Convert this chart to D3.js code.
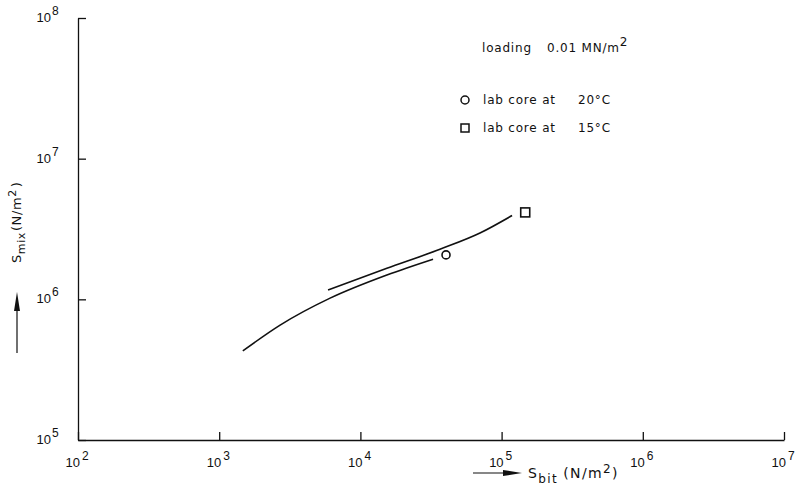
<!DOCTYPE html>
<html><head><meta charset="utf-8">
<script src="https://cdn.jsdelivr.net/npm/d3@7"></script>
<style>
body{margin:0;background:#fff;}
svg{display:block;font-family:"DejaVu Sans",sans-serif;}
.tk{font-family:"Liberation Sans",Arial,sans-serif;}
</style></head>
<body><svg id="c" width="795" height="492"></svg>
<script>
// ---- data ----
const xTickExps = [2, 3, 4, 5, 6, 7];
const yTickExps = [5, 6, 7, 8];
// lab core at 20°C : fitted curve (lower) + measured point
const curve20X = [1470, 2700, 6100, 15400, 32700];
const curve20Y = [4.3e5, 6.56e5, 1.02e6, 1.49e6, 1.93e6];
// lab core at 15°C : fitted curve (upper) + measured point
const curve15X = [5900, 15400, 36600, 70300, 118600];
const curve15Y = [1.165e6, 1.66e6, 2.27e6, 2.96e6, 3.94e6];
const point20 = [40400, 2.07e6];
const point15 = [147000, 4.15e6];
const legendText = ["lab core at", "lab core at"];
const legendTemps = ["20°C", "15°C"];

const svg = d3.select("#c");
const x = d3.scaleLog().domain([1e2, 1e7]).range([78, 784]);
const y = d3.scaleLog().domain([1e5, 1e8]).range([440, 18]);
const ink = "#111";

// axes
const xAxis = d3.axisBottom(x).tickValues(xTickExps.map(e => Math.pow(10, e)))
  .tickSizeInner(-8).tickSizeOuter(0).tickFormat("");
const yAxis = d3.axisLeft(y).tickValues(yTickExps.map(e => Math.pow(10, e)))
  .tickSizeInner(-8).tickSizeOuter(0).tickFormat("");
const gx = svg.append("g").attr("transform", `translate(0,${y(1e5)})`).call(xAxis);
const gy = svg.append("g").attr("transform", `translate(${x(1e2)},0)`).call(yAxis);
[gx, gy].forEach(g => {
  g.selectAll("path,line").attr("stroke", ink).attr("stroke-width", 1.3);
});

// tick labels
xTickExps.forEach(e => {
  svg.append("text").attr("class", "tk").attr("x", x(Math.pow(10, e)) + 2).attr("y", y(1e5) + 27)
    .attr("text-anchor", "end").attr("font-size", 13).attr("fill", ink).text("10");
  svg.append("text").attr("class", "tk").attr("x", x(Math.pow(10, e)) + 4).attr("y", y(1e5) + 20)
    .attr("font-size", 12).attr("fill", ink).text(e);
});
yTickExps.forEach(e => {
  svg.append("text").attr("class", "tk").attr("x", 51).attr("y", y(Math.pow(10, e)) + 4)
    .attr("text-anchor", "end").attr("font-size", 13).attr("fill", ink).text("10");
  svg.append("text").attr("class", "tk").attr("x", 52).attr("y", y(Math.pow(10, e)) - 3)
    .attr("font-size", 12).attr("fill", ink).text(e);
});

// curves
const line = d3.line().x(d => x(d[0])).y(d => y(d[1])).curve(d3.curveMonotoneX);
svg.append("path").datum(d3.zip(curve20X, curve20Y)).attr("d", line)
  .attr("fill", "none").attr("stroke", ink).attr("stroke-width", 1.6);
svg.append("path").datum(d3.zip(curve15X, curve15Y)).attr("d", line)
  .attr("fill", "none").attr("stroke", ink).attr("stroke-width", 1.6);

// markers
svg.append("circle").attr("cx", x(point20[0])).attr("cy", y(point20[1])).attr("r", 4)
  .attr("fill", "none").attr("stroke", ink).attr("stroke-width", 1.6);
svg.append("rect").attr("x", x(point15[0]) - 4.5).attr("y", y(point15[1]) - 4.5)
  .attr("width", 9).attr("height", 9)
  .attr("fill", "none").attr("stroke", ink).attr("stroke-width", 1.6);

// legend
const ls = 0.8;
svg.append("text").attr("x", 482).attr("y", 52).attr("font-size", 12).attr("letter-spacing", ls)
  .attr("fill", ink).text("loading");
const lt = svg.append("text").attr("x", 547).attr("y", 52).attr("font-size", 12)
  .attr("letter-spacing", ls).attr("fill", ink);
lt.append("tspan").text("0.01 MN/m");
lt.append("tspan").attr("dy", -6).attr("font-size", 12).text("2");

const ly = [100, 128];
svg.append("circle").attr("cx", 465).attr("cy", ly[0]).attr("r", 4)
  .attr("fill", "none").attr("stroke", ink).attr("stroke-width", 1.5);
svg.append("rect").attr("x", 461).attr("y", ly[1] - 4).attr("width", 8).attr("height", 8)
  .attr("fill", "none").attr("stroke", ink).attr("stroke-width", 1.5);
ly.forEach((yy, i) => {
  svg.append("text").attr("x", 483).attr("y", yy + 4).attr("font-size", 12)
    .attr("letter-spacing", ls).attr("fill", ink).text(legendText[i]);
  svg.append("text").attr("x", 578).attr("y", yy + 4).attr("font-size", 12)
    .attr("letter-spacing", ls).attr("fill", ink).text(legendTemps[i]);
});

// x title
svg.append("line").attr("x1", 473).attr("y1", 473).attr("x2", 510).attr("y2", 473)
  .attr("stroke", ink).attr("stroke-width", 1.2);
svg.append("path").attr("d", "M503,470 L522,473 L503,476 Z").attr("fill", ink);
const xt = svg.append("text").attr("x", 528).attr("y", 478).attr("font-size", 14)
  .attr("letter-spacing", 1.4).attr("fill", ink);
xt.append("tspan").text("S");
xt.append("tspan").attr("dy", 5).attr("font-size", 12).text("bit");
xt.append("tspan").attr("dy", -5).attr("dx", 5).text("(N/m");
xt.append("tspan").attr("dy", -5).attr("font-size", 12).text("2");
xt.append("tspan").attr("dy", 5).text(")");

// y title (rotated)
svg.append("line").attr("x1", 17).attr("y1", 353).attr("x2", 17).attr("y2", 300)
  .attr("stroke", ink).attr("stroke-width", 1.2);
svg.append("path").attr("d", "M14,311 L17,292 L20,311 Z").attr("fill", ink);
const yt = svg.append("text").attr("transform", "translate(21,263) rotate(-90)")
  .attr("font-size", 13).attr("letter-spacing", 0.6).attr("fill", ink);
yt.append("tspan").text("S");
yt.append("tspan").attr("dy", 4).attr("font-size", 11).text("mix");
yt.append("tspan").attr("dy", -4).attr("dx", 1).text("(N/m");
yt.append("tspan").attr("dy", -5).attr("font-size", 11).text("2");
yt.append("tspan").attr("dy", 5).attr("dx", 2).text(")");
</script></body></html>
